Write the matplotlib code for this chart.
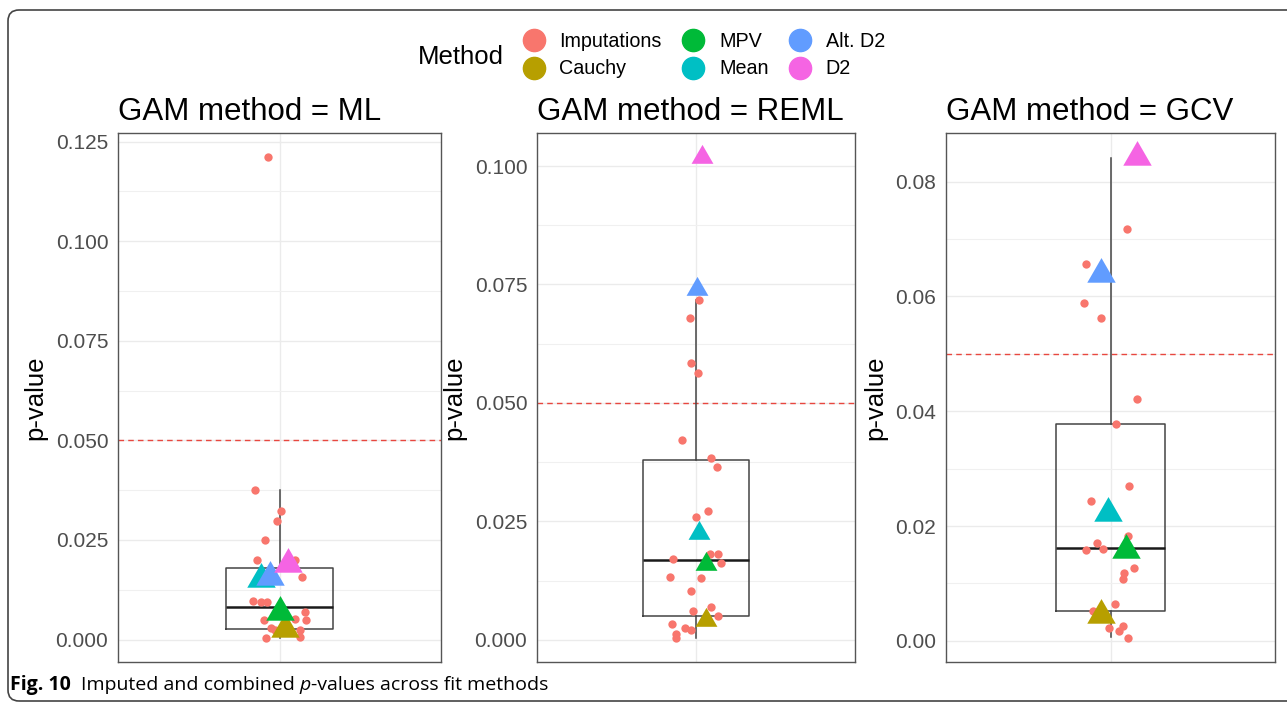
import matplotlib.pyplot as plt
import numpy as np
from matplotlib.patches import FancyBboxPatch
from matplotlib.lines import Line2D
from matplotlib.markers import MarkerStyle
from matplotlib.ticker import MultipleLocator, FormatStrFormatter
from matplotlib.transforms import IdentityTransform

plt.rcParams['font.family'] = ['Liberation Sans', 'DejaVu Sans']

# Legend / colours (ggplot hue palette)
methods = ['Imputations', 'Cauchy', 'MPV', 'Mean', 'Alt. D2', 'D2']
colours = ['#F8766D', '#B79F00', '#00BA38', '#00BFC4', '#619CFF', '#F564E3']

titles = ['GAM method = ML', 'GAM method = REML', 'GAM method = GCV']

# imputed p-values (one per imputation) and their jitter offsets
ml_imp = [0.1211, 0.0375, 0.0322, 0.0297, 0.0249, 0.0199, 0.0200, 0.0156, 0.0098, 0.0094,
          0.0094, 0.0068, 0.0050, 0.0049, 0.0052, 0.0029, 0.0024, 0.0024, 0.0007, 0.0004]
ml_imp_dx = [-0.041, -0.090, 0.007, -0.009, -0.054, -0.082, 0.056, 0.083, -0.099, -0.068,
             -0.047, 0.093, 0.097, -0.059, 0.056, -0.031, -0.015, 0.078, 0.077, -0.052]

reml_imp = [0.0718, 0.0679, 0.0585, 0.0563, 0.0421, 0.0384, 0.0364, 0.0271, 0.0259, 0.0182,
            0.0182, 0.0170, 0.0162, 0.0133, 0.0130, 0.0104, 0.0069, 0.0060, 0.0050, 0.0034,
            0.0026, 0.0020, 0.0012, 0.0004]
reml_imp_dx = [0.011, -0.021, -0.019, 0.009, -0.052, 0.055, 0.078, 0.044, -0.001, 0.053,
               0.082, -0.088, 0.093, -0.098, 0.018, -0.019, 0.055, -0.011, 0.082, -0.092,
               -0.042, -0.018, -0.077, -0.077]

gcv_imp = [0.0842, 0.0718, 0.0657, 0.0588, 0.0563, 0.0422, 0.0378, 0.0270, 0.0244, 0.0182,
           0.0170, 0.0160, 0.0159, 0.0127, 0.0118, 0.0108, 0.0064, 0.0052, 0.0026, 0.0023,
           0.0017, 0.0005]
gcv_imp_dx = [0.091, 0.060, -0.090, -0.096, -0.036, 0.095, 0.021, 0.067, -0.072, 0.064,
              -0.050, -0.027, -0.090, 0.084, 0.049, 0.045, 0.016, -0.064, 0.046, -0.004,
              0.032, 0.063]

# combined p-values in order Cauchy, MPV, Mean, Alt. D2, D2
ml_comb = [0.0026, 0.0068, 0.0153, 0.0158, 0.0190]
ml_comb_dx = [0.022, 0.0, -0.068, -0.037, 0.033]
reml_comb = [0.0042, 0.0161, 0.0225, 0.0741, 0.1019]
reml_comb_dx = [0.036, 0.036, 0.011, 0.003, 0.021]
gcv_comb = [0.0045, 0.0158, 0.0222, 0.0639, 0.0843]
gcv_comb_dx = [-0.034, 0.057, -0.009, -0.033, 0.097]

# boxplot stats: low whisker, q1, median, q3, high whisker
ml_box = [0.0004, 0.0026, 0.0081, 0.0180, 0.0375]
reml_box = [0.0004, 0.0051, 0.0168, 0.0379, 0.0718]
gcv_box = [0.0006, 0.0052, 0.0161, 0.0378, 0.0842]

threshold = 0.05

W, H = 1287, 703
fig = plt.figure(figsize=(W / 100, H / 100), dpi=100)

# rounded frame around the whole figure
frame = FancyBboxPatch((8, 2), 1300, H - 12, boxstyle='round,pad=0,rounding_size=11',
                       transform=IdentityTransform(), fill=False, ec='#444444', lw=1.2)
fig.patches.append(frame)

rects = [(118, 133, 441, 662), (537, 133, 855, 662), (946, 133, 1275, 662)]
imps = [(ml_imp, ml_imp_dx), (reml_imp, reml_imp_dx), (gcv_imp, gcv_imp_dx)]
combs = [(ml_comb, ml_comb_dx), (reml_comb, reml_comb_dx), (gcv_comb, gcv_comb_dx)]
boxes = [ml_box, reml_box, gcv_box]
steps = [(0.025, 0.0125, '%.3f'), (0.025, 0.0125, '%.3f'), (0.02, 0.01, '%.2f')]
tri_size = [560, 330, 560]

tri = MarkerStyle([(0, 1), (-0.866, -0.5), (0.866, -0.5)])

for i in range(3):
    x0, y0, x1, y1 = rects[i]
    ax = fig.add_axes([x0 / W, 1 - y1 / H, (x1 - x0) / W, (y1 - y0) / H])
    vals, dx = imps[i]
    cv, cdx = combs[i]
    lo, q1, med, q3, hi = boxes[i]

    ax.axhline(threshold, color='#E8473F', lw=1.0, ls=(0, (4, 3)), zorder=1.5)
    ax.bxp([{'whislo': lo, 'q1': q1, 'med': med, 'q3': q3, 'whishi': hi, 'fliers': []}],
           positions=[0], widths=0.4, showfliers=False, showcaps=False,
           boxprops=dict(color='#444444', lw=1.1),
           whiskerprops=dict(color='#444444', lw=1.1),
           medianprops=dict(color='#1a1a1a', lw=1.8), zorder=2)
    ax.scatter(np.array(dx), vals, s=36, color=colours[0], lw=0, zorder=3)
    for k in range(5):
        ax.scatter(cdx[k], cv[k], s=tri_size[i], marker=tri, color=colours[k + 1], lw=0, zorder=4)

    allv = list(vals) + list(cv) + [threshold]
    rng = max(allv) - min(allv)
    ax.set_ylim(min(allv) - 0.05 * rng, max(allv) + 0.05 * rng)
    ax.set_xlim(-0.6, 0.6)

    major, minor, fmt = steps[i]
    ax.yaxis.set_major_locator(MultipleLocator(major))
    ax.yaxis.set_minor_locator(MultipleLocator(minor))
    ax.yaxis.set_major_formatter(FormatStrFormatter(fmt))
    ax.set_xticks([0])
    ax.set_xticklabels([])
    ax.tick_params(axis='both', which='both', length=0, labelsize=15,
                   labelcolor='#4D4D4D', pad=7)
    ax.set_axisbelow(True)
    ax.grid(which='major', color='#EBEBEB', lw=1.0)
    ax.grid(which='minor', axis='y', color='#F0F0F0', lw=0.8)
    for s in ax.spines.values():
        s.set_color('#555555')
        s.set_linewidth(1.0)

    ax.set_ylabel('p-value', fontsize=18.5, labelpad=6)
    ax.set_title(titles[i], loc='left', fontsize=22.5, pad=9)

# legend
handles = [Line2D([], [], marker='o', ls='', markersize=16, color=c) for c in colours]
fig.text(418 / W, 1 - 57 / H, 'Method', fontsize=18.5, va='center', ha='left')
fig.legend(handles, methods, ncol=3, loc='center left',
           bbox_to_anchor=(522 / W, 1 - 55 / H), frameon=False, fontsize=14.2,
           handlelength=1.2, handletextpad=0.7, columnspacing=1.0,
           labelspacing=0.45, borderpad=0, borderaxespad=0)

# caption
r = fig.canvas.get_renderer()
cy = 1 - 685 / H
cap_font = ['Open Sans', 'DejaVu Sans']
t = fig.text(10 / W, cy, 'Fig. 10', fontsize=14, fontweight='bold',
             family=cap_font, va='center')
x = t.get_window_extent(renderer=r).x1 + 10
for txt, style in [('Imputed and combined ', 'normal'), ('p', 'italic'),
                   ('-values across fit methods', 'normal')]:
    t = fig.text(x / W, cy, txt, fontsize=14, style=style, family=cap_font, va='center')
    x = t.get_window_extent(renderer=r).x1

fig.savefig('out.png', dpi=100)
